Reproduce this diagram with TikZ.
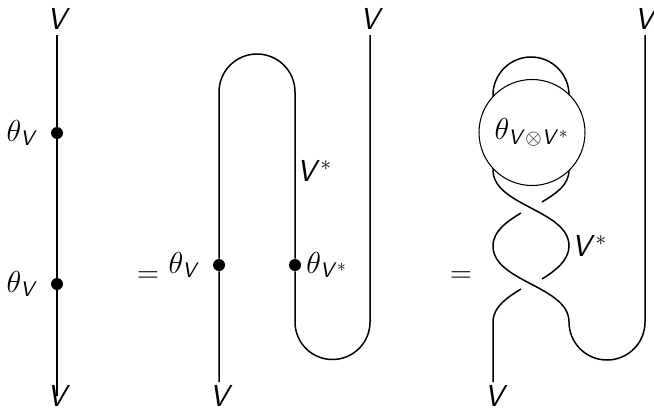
\documentclass[tikz,border=0pt]{standalone}
\usepackage{amsmath,amssymb}
\usetikzlibrary{arrows.meta,positioning,calc}
\DeclareMathAlphabet{\mathssl}{OT1}{cmss}{m}{sl}
\newcommand{\vV}{\mathssl{V}}

\begin{document}
\begin{tikzpicture}[
    strand/.style={line width=0.85pt},
    dot/.style={circle, fill=black, inner sep=0pt, minimum size=2.4mm},
    lab/.style={inner sep=0pt, font=\LARGE},
    twist/.style={circle, draw=black, fill=white, line width=0.6pt,
                inner sep=0pt, minimum size=21.2mm, font=\LARGE},
]
\useasboundingbox (0,0) rectangle (13.08,8.16);

% --- First strand ---
\node[lab] (vtopa) at (1.18,7.78) {$\vV$};
\node[lab] (vbota) at (1.18,0.25) {$\vV$};
\coordinate (topa) at (1.14,7.46);
\coordinate (bota) at (1.14,0.24);
\node[dot] (thetaa) at (1.14,5.5) {};
\node[dot] (thetab) at (1.14,2.48) {};
\node[lab] (laba) at (0.45,5.5) {$\theta_{\vV}$};
\node[lab] (labb) at (0.45,2.48) {$\theta_{\vV}$};
\draw[strand] (topa) -- (thetaa) -- (thetab) -- (bota);

% --- Second strand ---
\node[lab] (eqa) at (2.96,2.62) {$=$};
\node[lab] (vbotb) at (4.43,0.25) {$\vV$};
\node[lab] (vtopb) at (7.44,7.78) {$\vV$};
\coordinate (botb) at (4.38,0.52);
\coordinate (topb) at (7.4,7.46);
\node[dot] (thetac) at (4.38,2.86) {};
\node[dot] (thetad) at (5.9,2.86) {};
\node[lab] (labc) at (3.69,2.86) {$\theta_{\vV}$};
\node[lab] (labd) at (6.54,2.86) {$\theta_{\vV^*}$};
\node[lab] (vstara) at (6.29,4.75) {$\vV^*$};
\draw[strand] (botb) -- (thetac) -- (4.38,6.32) arc (180:0:0.76)
  -- (thetad) -- (5.9,1.72) arc (180:360:0.75) -- (topb);

% --- Third strand, with the two crossings ---
\node[lab] (eqb) at (9.22,2.62) {$=$};
\node[lab] (vbotc) at (9.93,0.25) {$\vV$};
\node[lab] (vtopc) at (12.93,7.78) {$\vV$};
\node[lab] (vstarb) at (11.79,3.24) {$\vV^*$};
\coordinate (botc) at (9.86,0.52);
\coordinate (topc) at (12.9,7.46);
\coordinate (lefta) at (9.86,4.76);
\coordinate (righta) at (11.38,4.76);
\coordinate (leftb) at (9.86,3.24);
\coordinate (rightb) at (11.38,3.24);
\coordinate (leftc) at (9.86,1.72);
\coordinate (rightc) at (11.38,1.72);
% loop above and round the big circle
\draw[strand] (lefta) -- (9.86,6.26) arc (180:0:0.76) -- (righta);
% over strands
\draw[strand] (lefta) .. controls (9.86,4.04) and (11.38,3.96) .. (rightb)
  .. controls (11.38,2.95) and (11.1,2.74) .. (10.84,2.58);
\draw[strand] (10.42,3.9) .. controls (10.16,3.74) and (9.86,3.55) .. (leftb)
  .. controls (9.86,2.52) and (11.38,2.44) .. (rightc)
  arc (180:360:0.76) -- (topc);
% under strand pieces
\draw[strand] (righta) .. controls (11.38,4.45) and (11.1,4.28) .. (10.84,4.12);
\draw[strand] (10.42,2.38) .. controls (10.16,2.22) and (9.86,2.03) .. (leftc) -- (botc);
\node[twist] (thetabig) at (10.64,5.51) {$\theta_{\vV\otimes \vV^*}$};

\end{tikzpicture}
\end{document}
